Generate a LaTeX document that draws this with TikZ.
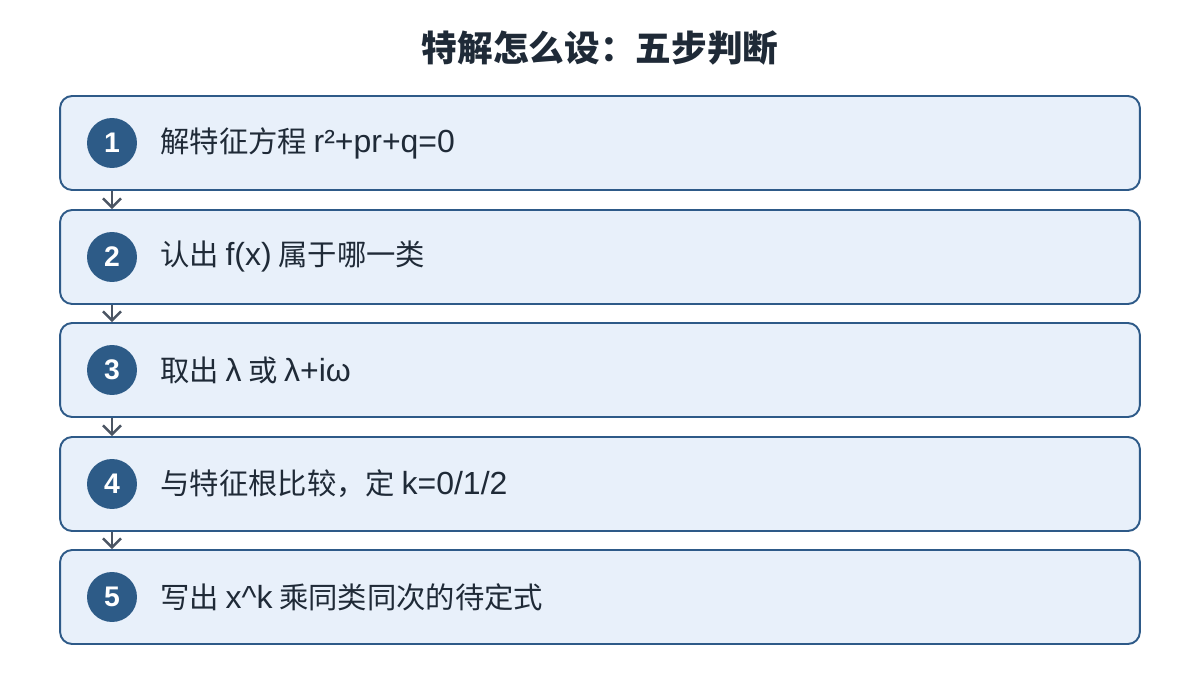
\documentclass[tikz,border=0pt]{standalone}
\usepackage{fontspec}
\setmainfont{Noto Sans CJK SC}
\newfontfamily\latn[Scale=1.09]{Liberation Sans}
\usetikzlibrary{arrows.meta}
\definecolor{boxfill}{HTML}{E8F0FA}
\definecolor{boxline}{HTML}{2E5A88}
\definecolor{numfill}{HTML}{2D5B87}
\definecolor{inktext}{HTML}{1F2A37}
\definecolor{arrowgray}{HTML}{4B5563}
\begin{document}
\begin{tikzpicture}[x=0.02cm, y=-0.02cm,
    stepbox/.style={draw=boxline, line width=1.1pt, fill=boxfill, rounded corners=0.24cm,
      minimum width=21.6cm, minimum height=1.88cm, inner sep=0pt},
    numdot/.style={circle, fill=numfill, minimum size=1.0cm, inner sep=0pt,
      text=white, font=\fontsize{14.8}{15}\selectfont\latn\bfseries},
    steptext/.style={anchor=west, inner sep=0pt, text=inktext, font=\fontsize{16.7}{19}\selectfont},
    flow/.style={draw=arrowgray, line width=1.4pt, -{Straight Barb[length=1.8mm, width=3.6mm, line width=1.4pt]}}]
        \useasboundingbox (0,0) rectangle (1200,675);

        \node[text=inktext, font=\fontsize{20.3}{23}\selectfont\bfseries] (title) at (600, 48) {特解怎么设：五步判断};

        \node[stepbox] (b1) at (600, 143) {};
        \node[stepbox] (b2) at (600, 257) {};
        \node[stepbox] (b3) at (600, 370) {};
        \node[stepbox] (b4) at (600, 484) {};
        \node[stepbox] (b5) at (600, 597) {};

        \node[numdot] (n1) at (112, 143) {1};
        \node[numdot] (n2) at (112, 257) {2};
        \node[numdot] (n3) at (112, 370) {3};
        \node[numdot] (n4) at (112, 484) {4};
        \node[numdot] (n5) at (112, 597) {5};

        \node[steptext] (t1) at (160, 143) {解特征方程 {\latn r²+pr+q=0}};
        \node[steptext] (t2) at (160, 257) {认出 {\latn f(x)} 属于哪一类};
        \node[steptext] (t3) at (160, 370) {取出 {\latn λ} 或 {\latn λ+iω}};
        \node[steptext] (t4) at (160, 484) {与特征根比较，定 {\latn k=0/1/2}};
        \node[steptext] (t5) at (160, 597) {写出 {\latn x\^{}k} 乘同类同次的待定式};

        \draw[flow] (b1.south -| n1) -- (b2.north -| n2);
        \draw[flow] (b2.south -| n2) -- (b3.north -| n3);
        \draw[flow] (b3.south -| n3) -- (b4.north -| n4);
        \draw[flow] (b4.south -| n4) -- (b5.north -| n5);
    \end{tikzpicture}
\end{document}
